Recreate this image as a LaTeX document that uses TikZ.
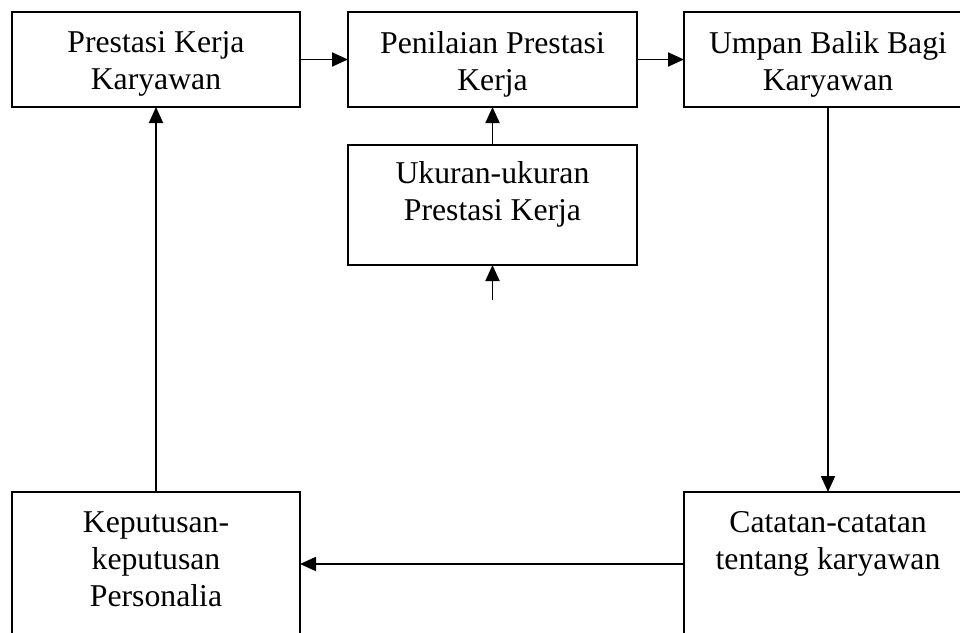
\documentclass[tikz,border=0pt]{standalone}
\usepackage{fontspec}
\setmainfont{Liberation Serif}
\usetikzlibrary{arrows.meta}
\begin{document}
\begin{tikzpicture}[x=0.75pt,y=-0.75pt,
  box/.style={draw, line width=1.4pt, rectangle, inner sep=0pt, outer sep=0pt},
  lbl/.style={font=\fontsize{23.8}{27.75}\selectfont, align=center, inner sep=0pt, anchor=north},
  arr/.style={line width=1.4pt, -{Triangle[length=12pt,width=10.5pt]}}]
\clip (0,0) rectangle (960,632);
% boxes
\node[box, minimum width=216pt, minimum height=71.25pt] (b1) at (156,59.5) {};
\node[box, minimum width=216.75pt, minimum height=71.25pt] (b2) at (492.5,59.5) {};
\node[box, minimum width=216pt, minimum height=71.25pt] (b3) at (828,59.5) {};
\node[box, minimum width=216.75pt, minimum height=90pt] (b4) at (492.5,205) {};
\node[box, minimum width=216pt, minimum height=126pt] (b5) at (156,576) {};
\node[box, minimum width=216pt, minimum height=126pt] (b6) at (828,576) {};
% labels
\node[lbl] (t1) at (156,31) {Prestasi Kerja\\Karyawan};
\node[lbl] (t2) at (492.5,31) {Penilaian Prestasi\\Kerja};
\node[lbl] (t3) at (828,31) {Umpan Balik Bagi\\Karyawan};
\node[lbl] (t4) at (492.5,161) {Ukuran-ukuran\\Prestasi Kerja};
\node[lbl] (t5) at (156,511) {Keputusan-\\keputusan\\Personalia};
\node[lbl] (t6) at (828,511) {Catatan-catatan\\tentang karyawan};
% connectors
\coordinate (src) at (492.5,300);
\draw[arr] (b1.east) -- (b2.west);
\draw[arr] (b2.east) -- (b3.west);
\draw[arr] (b4.north) -- (b2.south);
\draw[arr] (src) -- (b4.south);
\draw[arr] (b3.south) -- (b6.north);
\draw[arr] ([yshift=9pt]b6.west) -- ([yshift=9pt]b5.east);
\draw[arr] (b5.north) -- (b1.south);
\end{tikzpicture}
\end{document}
